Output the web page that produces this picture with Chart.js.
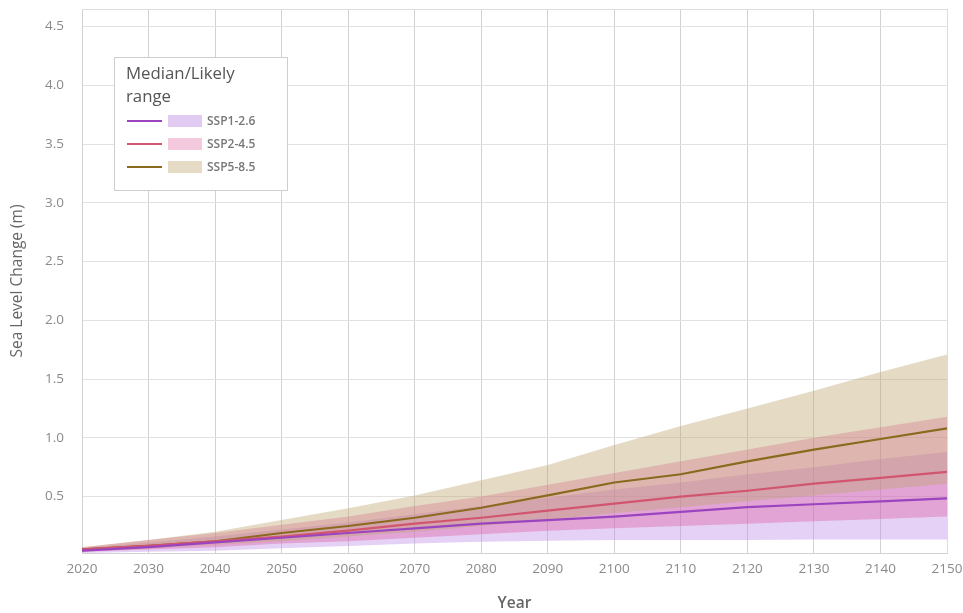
<!DOCTYPE html>
<html>
<head>
<meta charset="utf-8">
<script src="https://cdn.jsdelivr.net/npm/chart.js@4.4.1/dist/chart.umd.min.js"></script>
<style>
  html, body { margin: 0; padding: 0; background: #ffffff; }
  #wrap { width: 963px; height: 613px; position: relative; }
</style>
</head>
<body>
<div id="wrap"><canvas id="c" width="963" height="613"></canvas></div>
<script>
// Projected sea level change (m), median and likely range per scenario
const years = [2020, 2030, 2040, 2050, 2060, 2070, 2080, 2090, 2100, 2110, 2120, 2130, 2140, 2150];

const ssp126Median = [0.04, 0.07, 0.11, 0.15, 0.19, 0.23, 0.27, 0.30, 0.33, 0.37, 0.41, 0.435, 0.46, 0.485];
const ssp126Low    = [0.02, 0.03, 0.04, 0.06, 0.08, 0.10, 0.115, 0.125, 0.13, 0.13, 0.13, 0.135, 0.135, 0.135];
const ssp126High   = [0.06, 0.11, 0.16, 0.22, 0.28, 0.35, 0.42, 0.49, 0.56, 0.62, 0.69, 0.75, 0.82, 0.88];

const ssp245Median = [0.05, 0.08, 0.12, 0.16, 0.21, 0.27, 0.32, 0.38, 0.44, 0.50, 0.55, 0.61, 0.66, 0.71];
const ssp245Low    = [0.03, 0.05, 0.07, 0.10, 0.12, 0.15, 0.18, 0.21, 0.23, 0.25, 0.27, 0.29, 0.31, 0.33];
const ssp245High   = [0.07, 0.13, 0.19, 0.26, 0.33, 0.42, 0.50, 0.60, 0.70, 0.80, 0.90, 1.00, 1.09, 1.18];

const ssp585Median = [0.05, 0.08, 0.12, 0.19, 0.25, 0.32, 0.405, 0.51, 0.62, 0.69, 0.80, 0.90, 0.99, 1.08];
const ssp585Low    = [0.03, 0.06, 0.09, 0.12, 0.16, 0.20, 0.25, 0.30, 0.36, 0.41, 0.46, 0.51, 0.56, 0.61];
const ssp585High   = [0.07, 0.13, 0.20, 0.30, 0.40, 0.51, 0.64, 0.77, 0.94, 1.10, 1.25, 1.40, 1.56, 1.71];

const yTickValues = [0.5, 1.0, 1.5, 2.0, 2.5, 3.0, 3.5, 4.0, 4.5];
const scenarioNames = ['SSP1-2.6', 'SSP2-4.5', 'SSP5-8.5'];

const lineColors = ['#9a44bf', '#d2556f', '#8b6a1f'];
const bandColors = ['rgba(190,140,230,0.40)', 'rgba(220,80,150,0.35)', 'rgba(190,165,110,0.40)'];
const swatchColors = ['#e2cbf3', '#f5c9dd', '#e6dbc4'];

const FONT = "'Open Sans', 'Noto Sans', sans-serif";

function pts(arr) { return arr.map((v, i) => ({ x: years[i], y: v })); }

function bandPair(low, high, color) {
  return [
    { data: pts(low), borderWidth: 0, pointRadius: 0, fill: false, backgroundColor: 'transparent' },
    { data: pts(high), borderWidth: 0, pointRadius: 0, fill: '-1', backgroundColor: color }
  ];
}
function medianLine(arr, color) {
  return { data: pts(arr), borderColor: color, borderWidth: 2.2, pointRadius: 0, fill: false, tension: 0 };
}

const datasets = [
  ...bandPair(ssp585Low, ssp585High, bandColors[2]),
  ...bandPair(ssp245Low, ssp245High, bandColors[1]),
  ...bandPair(ssp126Low, ssp126High, bandColors[0]),
  medianLine(ssp126Median, lineColors[0]),
  medianLine(ssp245Median, lineColors[1]),
  medianLine(ssp585Median, lineColors[2])
];

// Frame around the plotting area
const framePlugin = {
  id: 'frame',
  beforeDatasetsDraw(chart) {
    const { ctx, chartArea: a } = chart;
    ctx.save();
    ctx.strokeStyle = '#dcdcdc';
    ctx.lineWidth = 1;
    ctx.beginPath();
    ctx.moveTo(a.left, a.top + 0.5);
    ctx.lineTo(a.right + 0.5, a.top + 0.5);
    ctx.lineTo(a.right + 0.5, a.bottom);
    ctx.stroke();
    ctx.restore();
  }
};

// Boxed key with a title, line samples and range swatches
const keyPlugin = {
  id: 'keyBox',
  afterDraw(chart) {
    const ctx = chart.ctx;
    const x = 114, y = 57, w = 173, h = 133;
    ctx.save();
    ctx.fillStyle = '#ffffff';
    ctx.fillRect(x, y, w, h);
    ctx.strokeStyle = '#cfcfcf';
    ctx.lineWidth = 1;
    ctx.strokeRect(x + 0.5, y + 0.5, w, h);

    ctx.fillStyle = '#555555';
    ctx.font = '16.8px ' + FONT;
    ctx.textBaseline = 'middle';
    ctx.textAlign = 'left';
    ctx.fillText('Median/Likely', 126, 74);
    ctx.fillText('range', 126, 97);

    ctx.font = '600 12px ' + FONT;
    scenarioNames.forEach((name, i) => {
      const cy = 121 + i * 23;
      ctx.strokeStyle = lineColors[i];
      ctx.lineWidth = 2;
      ctx.beginPath();
      ctx.moveTo(127, cy);
      ctx.lineTo(162, cy);
      ctx.stroke();
      ctx.fillStyle = swatchColors[i];
      ctx.fillRect(168, cy - 6, 34, 12);
      ctx.fillStyle = '#777777';
      ctx.fillText(name, 207, cy + 0.5);
    });
    ctx.restore();
  }
};

new Chart(document.getElementById('c'), {
  type: 'line',
  data: { datasets },
  options: {
    responsive: false,
    animation: false,
    layout: { padding: { top: 9, right: 16, left: 0, bottom: 0 } },
    plugins: {
      legend: { display: false },
      tooltip: { enabled: false },
      filler: { drawTime: 'beforeDatasetsDraw' }
    },
    scales: {
      x: {
        type: 'linear',
        min: 2020,
        max: 2150,
        ticks: {
          stepSize: 10,
          color: '#8a8a8a',
          font: { family: FONT, size: 13.5 },
          padding: 8,
          maxRotation: 0,
          callback: v => String(v)
        },
        grid: { color: '#d2d2d2', drawTicks: false },
        border: { color: '#d2d2d2' },
        title: {
          display: true,
          text: 'Year',
          color: '#666666',
          font: { family: FONT, size: 15.5, weight: '600' },
          padding: { top: 10, bottom: 0 }
        },
        afterFit(scale) {
          scale.height = 60;
          scale.paddingLeft = 0;
          scale.paddingRight = 0;
        }
      },
      y: {
        type: 'linear',
        min: 0.02,
        max: 4.65,
        afterBuildTicks(scale) {
          scale.ticks = yTickValues.map(v => ({ value: v }));
        },
        ticks: {
          color: '#8a8a8a',
          font: { family: FONT, size: 13.5 },
          padding: 18,
          callback: v => Number(v).toFixed(1)
        },
        grid: { color: '#e2e2e2', drawTicks: false },
        border: { color: '#d2d2d2' },
        title: {
          display: true,
          text: 'Sea Level Change (m)',
          color: '#666666',
          font: { family: FONT, size: 15.5 },
          padding: { top: 8, bottom: 0 }
        },
        afterFit(scale) {
          scale.width = 82;
          scale.paddingTop = 0;
          scale.paddingBottom = 0;
        }
      }
    }
  },
  plugins: [framePlugin, keyPlugin]
});
</script>
</body>
</html>
